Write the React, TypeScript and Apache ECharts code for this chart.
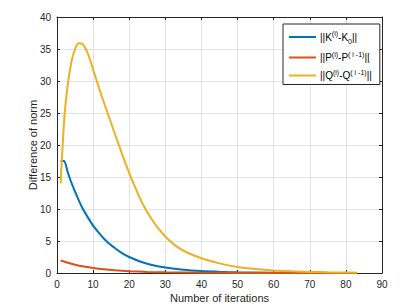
import React, { useEffect, useRef } from "react";
import * as echarts from "echarts";

const kX = [1, 2, 3, 4, 5, 6, 7, 8, 10, 12, 14, 16, 18, 20, 23, 26, 30, 35, 40, 45, 50, 60, 70, 83];
const kY = [17.5, 17.5, 15.7, 14.1, 12.7, 11.4, 10.2, 9.2, 7.4, 6.0, 4.8, 3.9, 3.1, 2.5, 1.8, 1.3, 0.87, 0.51, 0.3, 0.18, 0.1, 0.04, 0.01, 0.0];

const pX = [1, 3, 5, 7, 10, 13, 16, 20, 25, 30, 40, 50, 60, 70, 83];
const pY = [1.95, 1.6, 1.3, 1.05, 0.78, 0.57, 0.42, 0.28, 0.17, 0.1, 0.04, 0.015, 0.005, 0.002, 0.0];

const qX = [1, 2, 3, 4, 5, 6, 7, 8, 9, 10, 12, 14, 16, 18, 20, 22, 24, 26, 28, 30, 33, 36, 40, 45, 50, 55, 60, 65, 70, 75, 80, 83];
const qY = [14, 24, 29.5, 33, 35, 35.9, 35.8, 35, 33.6, 31.8, 28.3, 25, 21.8, 18.6, 15.6, 12.9, 10.5, 8.6, 7.0, 5.7, 4.2, 3.2, 2.3, 1.5, 0.95, 0.62, 0.4, 0.26, 0.17, 0.11, 0.07, 0.05];

const seriesNames = ["K", "P", "Q"];
const legendLabels: Record<string, string> = {
  K: "||K{sup|(i)}-K{sub|0}||",
  P: "||P{sup|(i)}-P{sup|( i -1)}||",
  Q: "||Q{sup|(i)}-Q{sup|( i -1)}||",
};
const colors = ["#0072BD", "#D95319", "#EDB120"];

const xTicks = { min: 0, max: 90, interval: 10 };
const yTicks = { min: 0, max: 40, interval: 5 };

const pairs = (xs: number[], ys: number[]) => xs.map((x, i) => [x, ys[i]]);

export default function App() {
  const ref = useRef<HTMLDivElement>(null);
  useEffect(() => {
    if (!ref.current) return;
    const chart = echarts.init(ref.current, null, { renderer: "svg" });
    const font = "'Liberation Sans', Arial, Helvetica, sans-serif";
    const axisCol = "#262626";
    const gridCol = "#e3e3e3";
    chart.setOption({
      animation: false,
      textStyle: { fontFamily: font },
      grid: { left: 57, right: 37, top: 17, bottom: 35, show: false, outerBoundsMode: "none", containLabel: false },
      legend: {
        data: seriesNames,
        orient: "vertical",
        left: 283,
        top: 24,
        icon: "rect",
        itemWidth: 27,
        itemHeight: 2,
        itemGap: 6,
        padding: [6, 8, 4, 6],
        borderColor: axisCol,
        borderWidth: 1,
        backgroundColor: "#ffffff",
        formatter: (n: string) => legendLabels[n],
        textStyle: {
          fontFamily: font,
          fontSize: 10,
          color: "#000",
          padding: [0, 0, 0, -1],
          rich: {
            sup: { fontSize: 7, fontFamily: font, padding: [0, 0, 7, 0], color: "#000" },
            sub: { fontSize: 7, fontFamily: font, padding: [8, 0, 0, 0], color: "#000" },
          },
        },
      },
      xAxis: [
        {
          type: "value",
          ...xTicks,
          name: "Number of iterations",
          nameLocation: "middle",
          nameGap: 19,
          nameMoveOverlap: false,
          nameTextStyle: { fontSize: 11, color: axisCol, fontFamily: font },
          axisLine: { show: true, onZero: false, lineStyle: { color: axisCol, width: 1 } },
          axisTick: { show: true, inside: true, length: 3, lineStyle: { color: axisCol } },
          axisLabel: { fontSize: 10, color: axisCol, margin: 6, fontFamily: font },
          splitLine: { show: true, lineStyle: { color: gridCol, width: 1 } },
        },
        {
          type: "value",
          ...xTicks,
          position: "top",
          axisLine: { show: true, onZero: false, lineStyle: { color: axisCol, width: 1 } },
          axisTick: { show: true, inside: true, length: 3, lineStyle: { color: axisCol } },
          axisLabel: { show: false },
          splitLine: { show: false },
        },
      ],
      yAxis: [
        {
          type: "value",
          ...yTicks,
          name: "Difference of norm",
          nameLocation: "middle",
          nameGap: 19,
          nameMoveOverlap: false,
          nameTextStyle: { fontSize: 11, color: axisCol, fontFamily: font },
          axisLine: { show: true, onZero: false, lineStyle: { color: axisCol, width: 1 } },
          axisTick: { show: true, inside: true, length: 3, lineStyle: { color: axisCol } },
          axisLabel: { fontSize: 10, color: axisCol, margin: 6, fontFamily: font },
          splitLine: { show: true, lineStyle: { color: gridCol, width: 1 } },
        },
        {
          type: "value",
          ...yTicks,
          position: "right",
          axisLine: { show: true, onZero: false, lineStyle: { color: axisCol, width: 1 } },
          axisTick: { show: true, inside: true, length: 3, lineStyle: { color: axisCol } },
          axisLabel: { show: false },
          splitLine: { show: false },
        },
      ],
      series: [
        { name: "K", type: "line", data: pairs(kX, kY) },
        { name: "P", type: "line", data: pairs(pX, pY) },
        { name: "Q", type: "line", data: pairs(qX, qY) },
      ].map((s, i) => ({
        ...s,
        xAxisIndex: 0,
        yAxisIndex: 0,
        showSymbol: false,
        symbol: "none",
        smooth: 0.2,
        color: colors[i],
        lineStyle: { width: 2, color: colors[i] },
      })),
    });
    return () => chart.dispose();
  }, []);
  return <div ref={ref} style={{ width: 419, height: 308, position: "absolute", left: 0, top: 0 }} />;
}
